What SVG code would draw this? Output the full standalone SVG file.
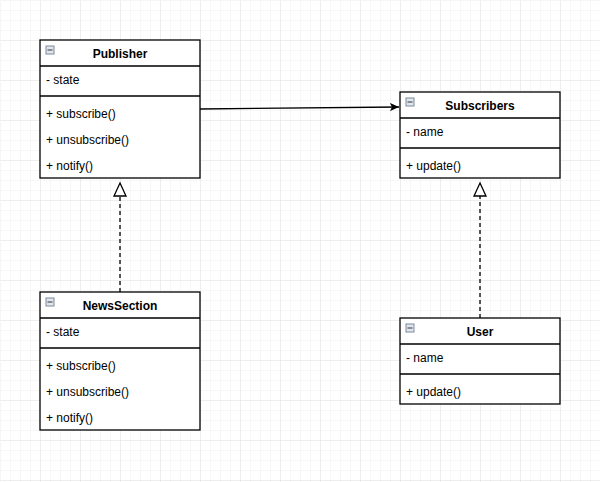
<svg xmlns="http://www.w3.org/2000/svg" width="600" height="482" viewBox="0 0 600 482">
<defs>
<pattern id="minor" width="10" height="10" patternUnits="userSpaceOnUse">
<path d="M10 0H0V10" fill="none" stroke="#f0f0f0" stroke-width="1"/>
</pattern>
<pattern id="major" width="40" height="40" patternUnits="userSpaceOnUse">
<rect width="40" height="40" fill="url(#minor)"/>
<path d="M40 0H0V40" fill="none" stroke="#e3e3e3" stroke-width="1"/>
</pattern>
<marker id="block" markerWidth="10" markerHeight="8" refX="9" refY="4" orient="auto" markerUnits="userSpaceOnUse">
<path d="M0 0L9 4L0 8L2 4Z" fill="#000"/>
</marker>
<g id="icon">
<rect x="0.5" y="0.5" width="8" height="8" fill="#dfe6ee" stroke="#7d8a99" stroke-width="1"/>
<path d="M2 4.5H7" stroke="#333" stroke-width="1"/>
</g>
</defs>
<style>
.box{fill:#fff;stroke:#000;stroke-width:1.3}
.ln{stroke:#000;stroke-width:1.3}
.t{font-family:"Liberation Sans",Arial,sans-serif;font-size:12px;fill:#000}
.h{font-family:"Liberation Sans",Arial,sans-serif;font-size:12px;font-weight:bold;fill:#000;text-anchor:middle}
.dash{stroke:#000;stroke-width:1.3;stroke-dasharray:4 3;fill:none}
.tri{fill:#fff;stroke:#000;stroke-width:1.3}
</style>
<rect width="600" height="482" fill="#fff"/>
<rect x="0.5" y="0.5" width="600" height="482" fill="url(#major)"/>

<g id="connectors">
<path d="M200 109L399 107" stroke="#000" stroke-width="1.3" fill="none" marker-end="url(#block)"/>
<path class="dash" d="M120 292V196"/>
<path class="tri" d="M120 183L126 196H114Z"/>
<path class="dash" d="M480 318V196"/>
<path class="tri" d="M480 183L486 196H474Z"/>
</g>

<g id="publisher">
<rect class="box" x="40" y="40" width="160" height="138"/>
<path class="ln" d="M40 66H200M40 96H200"/>
<use href="#icon" x="45.5" y="45.5"/>
<text class="h" x="120" y="57.5">Publisher</text>
<text class="t" x="46" y="83.5">- state</text>
<text class="t" x="46" y="117.5">+ subscribe()</text>
<text class="t" x="46" y="143.5">+ unsubscribe()</text>
<text class="t" x="46" y="169.5">+ notify()</text>
</g>

<g id="subscribers">
<rect class="box" x="400" y="92" width="160" height="86"/>
<path class="ln" d="M400 118H560M400 148H560"/>
<use href="#icon" x="405.5" y="97.5"/>
<text class="h" x="480" y="109.5">Subscribers</text>
<text class="t" x="406" y="135.5">- name</text>
<text class="t" x="406" y="169.5">+ update()</text>
</g>

<g id="newssection">
<rect class="box" x="40" y="292" width="160" height="138"/>
<path class="ln" d="M40 318H200M40 348H200"/>
<use href="#icon" x="45.5" y="297.5"/>
<text class="h" x="120" y="309.5">NewsSection</text>
<text class="t" x="46" y="335.5">- state</text>
<text class="t" x="46" y="369.5">+ subscribe()</text>
<text class="t" x="46" y="395.5">+ unsubscribe()</text>
<text class="t" x="46" y="421.5">+ notify()</text>
</g>

<g id="user">
<rect class="box" x="400" y="318" width="160" height="86"/>
<path class="ln" d="M400 344H560M400 374H560"/>
<use href="#icon" x="405.5" y="323.5"/>
<text class="h" x="480" y="335.5">User</text>
<text class="t" x="406" y="361.5">- name</text>
<text class="t" x="406" y="395.5">+ update()</text>
</g>
</svg>
